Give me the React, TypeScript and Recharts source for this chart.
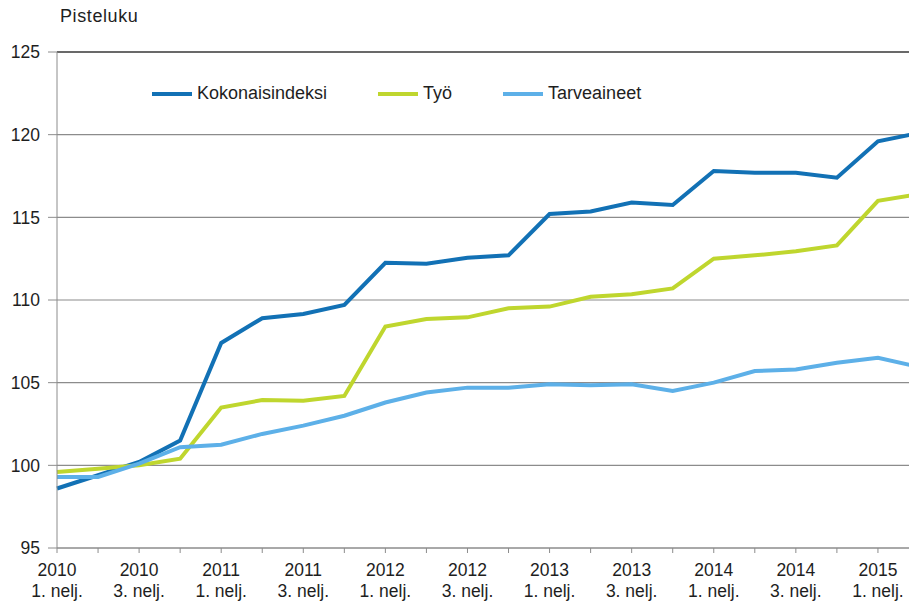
import { LineChart, Line, XAxis, YAxis, CartesianGrid, ReferenceLine } from "recharts";

const quarters = [
  "2010 1. nelj.", "2010 2. nelj.", "2010 3. nelj.", "2010 4. nelj.",
  "2011 1. nelj.", "2011 2. nelj.", "2011 3. nelj.", "2011 4. nelj.",
  "2012 1. nelj.", "2012 2. nelj.", "2012 3. nelj.", "2012 4. nelj.",
  "2013 1. nelj.", "2013 2. nelj.", "2013 3. nelj.", "2013 4. nelj.",
  "2014 1. nelj.", "2014 2. nelj.", "2014 3. nelj.", "2014 4. nelj.",
  "2015 1. nelj.", "2015 2. nelj.",
];

const kokonaisindeksi = [
  98.6, 99.4, 100.2, 101.5, 107.4, 108.9, 109.15, 109.7, 112.25, 112.2, 112.55,
  112.7, 115.2, 115.35, 115.9, 115.75, 117.8, 117.7, 117.7, 117.4, 119.6, 120.1,
];
const tyo = [
  99.6, 99.8, 100.0, 100.4, 103.5, 103.95, 103.9, 104.2, 108.4, 108.85, 108.95,
  109.5, 109.6, 110.2, 110.35, 110.7, 112.5, 112.7, 112.95, 113.3, 116.0, 116.4,
];
const tarveaineet = [
  99.3, 99.3, 100.1, 101.1, 101.25, 101.9, 102.4, 103.0, 103.8, 104.4, 104.7,
  104.7, 104.9, 104.85, 104.9, 104.5, 105.0, 105.7, 105.8, 106.2, 106.5, 105.95,
];

const yTicks = [95, 100, 105, 110, 115, 120, 125];

const series = [
  { key: "kokonais", name: "Kokonaisindeksi", color: "#1271b5" },
  { key: "tyo", name: "Työ", color: "#bfd62e" },
  { key: "tarve", name: "Tarveaineet", color: "#5db0e8" },
];

const data = quarters.map((q, i) => ({
  q,
  kokonais: kokonaisindeksi[i],
  tyo: tyo[i],
  tarve: tarveaineet[i],
}));

const FONT = "'Liberation Sans', Arial, sans-serif";
const TEXT = "#1e1e1e";

function QuarterTick({ x, y, payload, index }: any) {
  if (index % 2 !== 0) return null;
  const [year, ...rest] = String(payload.value).split(" ");
  return (
    <text x={x} y={y} textAnchor="middle" fill={TEXT} fontSize={17.5} fontFamily={FONT}>
      <tspan x={x} dy={21}>{year}</tspan>
      <tspan x={x} dy={21}>{rest.join(" ")}</tspan>
    </text>
  );
}

export default function App() {
  return (
    <div
      style={{
        position: "absolute",
        left: 0,
        top: 0,
        width: 909,
        height: 602,
        overflow: "hidden",
        background: "#fff",
        fontFamily: FONT,
      }}
    >
      <div style={{ position: "absolute", left: 60, top: 6, fontSize: 18, letterSpacing: 0.6, color: TEXT }}>
        Pisteluku
      </div>
      <div
        style={{
          position: "absolute",
          left: 152,
          top: 83,
          display: "flex",
          gap: 51,
          fontSize: 18,
          color: TEXT,
          zIndex: 2,
        }}
      >
        {series.map((s) => (
          <div key={s.key} style={{ display: "flex", alignItems: "center" }}>
            <span style={{ display: "inline-block", width: 40, height: 4, background: s.color, marginRight: 5 }} />
            <span>{s.name}</span>
          </div>
        ))}
      </div>
      <LineChart
        width={925}
        height={602}
        data={data}
        margin={{ top: 52, right: 6, bottom: 0, left: 0 }}
      >
        <CartesianGrid vertical={false} stroke="#8c8c8c" strokeWidth={1.2} />
        <XAxis
          dataKey="q"
          interval={0}
          height={54}
          tick={<QuarterTick />}
          tickSize={5}
          tickMargin={2}
          axisLine={{ stroke: "#8c8c8c" }}
          tickLine={{ stroke: "#8c8c8c" }}
        />
        <YAxis
          domain={[95, 125]}
          ticks={yTicks}
          width={57}
          tickSize={9}
          tickMargin={8}
          tick={{ fill: TEXT, fontSize: 17.5, fontFamily: FONT }}
          axisLine={{ stroke: "#8c8c8c" }}
          tickLine={{ stroke: "#8c8c8c" }}
        />
        <ReferenceLine y={125} stroke="#4a4a4a" strokeWidth={1.5} />
        {series.map((s) => (
          <Line
            key={s.key}
            type="linear"
            dataKey={s.key}
            name={s.name}
            stroke={s.color}
            strokeWidth={4}
            dot={false}
            isAnimationActive={false}
          />
        ))}
      </LineChart>
    </div>
  );
}
